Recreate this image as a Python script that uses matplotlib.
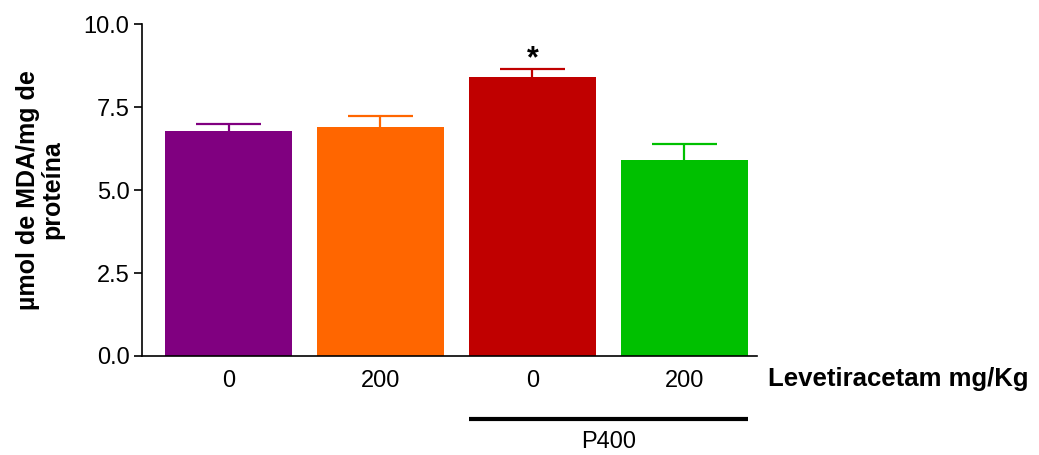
import matplotlib
import numpy as np

matplotlib.use('Agg')
import matplotlib.pyplot as plt

plt.rcParams['font.family'] = ['Liberation Sans', 'DejaVu Sans']

groups = ['0', '200', '0', '200']
mda = [6.78, 6.90, 8.40, 5.90]
sem = [0.21, 0.33, 0.24, 0.50]
colors = ['#800080', '#FF6600', '#C00000', '#00C000']

fig = plt.figure(figsize=(10.39, 4.55), dpi=100)
ax = fig.add_axes([0.1367, 0.2176, 0.592, 0.7294])

x = np.arange(len(mda))
ax.bar(x, mda, width=0.835, color=colors)
tops = np.array(mda) + np.array(sem)
cap = 0.214
ax.vlines(x, mda, tops, colors=colors, linewidth=1.6)
ax.hlines(tops, x - cap, x + cap, colors=colors, linewidth=1.6)

# significance marker over P400 + 0
ax.text(x[2], tops[2] - 0.15, '*', ha='center', va='bottom',
        fontsize=22, fontweight='bold')

ax.set_xlim(-0.57, 3.48)
ax.set_ylim(0, 10)
ax.set_yticks([0, 2.5, 5.0, 7.5, 10.0])
ax.set_yticklabels(['0.0', '2.5', '5.0', '7.5', '10.0'], fontsize=17)
ax.set_xticks(x)
ax.set_xticklabels(groups, fontsize=17)
ax.tick_params(axis='x', length=0, pad=10)
ax.tick_params(axis='y', length=6, width=1.2, pad=3)
for side in ['top', 'right']:
    ax.spines[side].set_visible(False)
ax.spines['left'].set_linewidth(1.2)
ax.spines['bottom'].set_linewidth(1.2)

ax.set_ylabel('µmol de MDA/mg de\nproteína', fontsize=18, fontweight='bold',
              labelpad=14, linespacing=1.0)
ax.text(3.55, -0.68, 'Levetiracetam mg/Kg', fontsize=18.5, fontweight='bold',
        ha='left', va='center', transform=ax.transData, clip_on=False)

# P400 group bracket
ax.plot([x[2] - 0.42, x[3] + 0.42], [-1.9, -1.9], color='black', linewidth=3,
        clip_on=False, solid_capstyle='butt')
ax.text((x[2] + x[3]) / 2, -2.6, 'P400', fontsize=17, ha='center', va='center')

fig.savefig('out.png', dpi=100)
